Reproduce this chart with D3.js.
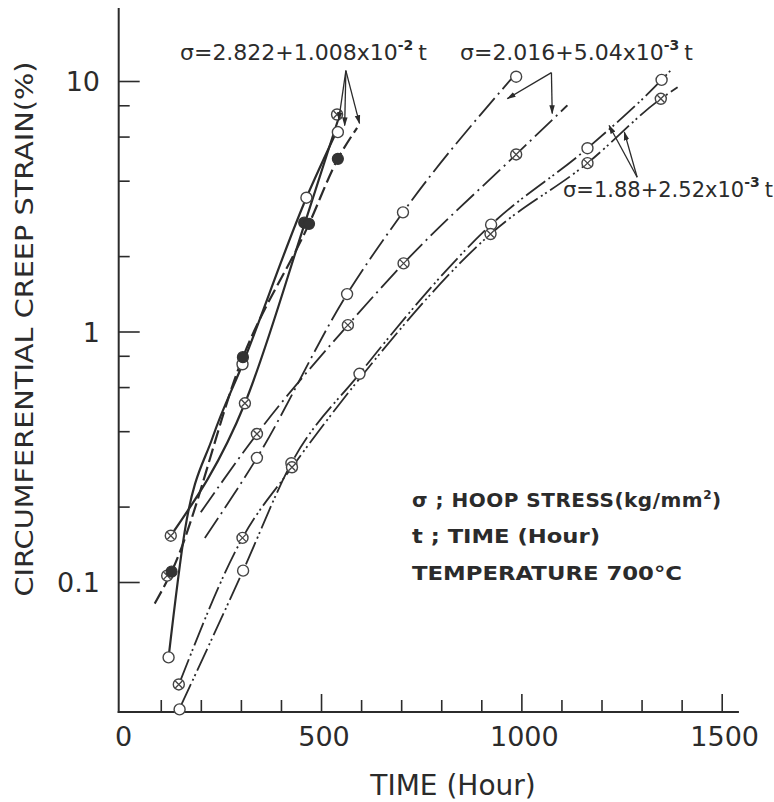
<!DOCTYPE html>
<html>
<head>
<meta charset="utf-8">
<script src="https://cdn.jsdelivr.net/npm/d3@7"></script>
<style>
body { margin: 0; background: #fff; }
svg { display: block; }
text { font-family: "DejaVu Sans", sans-serif; fill: #2b2b2b; }
</style>
</head>
<body>
<script>
var w = 774;
var h = 802;

// tick values
var xMajor = [0, 500, 1000, 1500];
var xMinor = [100, 200, 300, 400, 600, 700, 800, 900, 1100, 1200, 1300, 1400];
var yMajor = [0.1, 1, 10];
var yMinor = [0.2, 0.4, 0.6, 0.8, 2, 4, 6, 8];
var yLabels = ["0.1", "1", "10"];

// measured points [time (h), strain (%)]
// sigma = 2.822 + 1.008e-2 t
var g1Open = [[119.5, 0.050], [304, 0.74], [463.5, 3.42], [542, 6.25]];
var g1Filled = [[127, 0.110], [305, 0.79], [458, 2.72], [470, 2.69], [542, 4.89]];
var g1Cross = [[116, 0.106], [310, 0.517], [540, 7.35]];
// sigma = 2.016 + 5.04e-3 t
var g2Open = [[340, 0.313], [565, 1.41], [704.5, 2.99], [987, 10.4]];
var g2Cross = [[125, 0.153], [340, 0.39], [567, 1.06], [706, 1.87], [987, 5.09]];
// sigma = 1.88 + 2.52e-3 t
var g3Open = [[147, 0.031], [305.5, 0.111], [426, 0.298], [596, 0.678], [924.5, 2.67], [1165, 5.39], [1350, 10.1]];
var g3Cross = [[145, 0.039], [304, 0.150], [427.5, 0.287], [923, 2.45], [1165, 4.70], [1348, 8.49]];

// fitted curves (drawn through the points, with their visible run-out)
var g1OpenLine = [[119.5, 0.050], [160, 0.16], [230, 0.38], [304, 0.74], [463.5, 3.42], [545, 6.6]];
var g1FilledLine = [[85, 0.082], [127, 0.110], [305, 0.79], [470, 2.69], [542, 4.89], [590, 6.5]];
var g1CrossLine = [[125, 0.153], [310, 0.517], [460, 2.72], [545, 7.2]];
var g2OpenLine = [[210, 0.15], [340, 0.313], [565, 1.41], [704.5, 2.99], [975, 10.2]];
var g2CrossLine = [[200, 0.19], [340, 0.39], [567, 1.06], [706, 1.87], [987, 5.09], [1115, 8.0]];
var g3OpenLine = [[150, 0.032], [305.5, 0.111], [426, 0.298], [596, 0.678], [924.5, 2.67], [1165, 5.39], [1350, 10.1], [1372, 11.0]];
var g3CrossLine = [[148, 0.040], [304, 0.150], [427.5, 0.287], [600, 0.66], [923, 2.45], [1165, 4.70], [1348, 8.49], [1390, 9.45]];

// annotation arrows: apex then tips
var arrow1 = [[562, 11.0], [544, 6.96], [559, 6.64], [596, 6.77]];
var arrow2 = [[1075, 10.8], [965, 8.5], [1077, 7.42]];
var arrow3 = [[1289, 4.13], [1219, 6.64], [1257, 6.25]];

var x = d3.scaleLinear().domain([0, 1500]).range([120.7, 721.7]);
var y = d3.scaleLog().domain([0.1, 10]).range([582, 81]);

var svg = d3.select("body").append("svg").attr("width", w).attr("height", h);

var ink = "#2b2b2b";

// axes lines
svg.append("line").attr("x1", x(0) - 2).attr("y1", y(0.03)).attr("x2", x(0) - 2).attr("y2", 8)
	.attr("stroke", ink).attr("stroke-width", 2);
svg.append("line").attr("x1", x(0) - 3).attr("y1", y(0.03) - 1).attr("x2", x(1543)).attr("y2", y(0.03) - 1)
	.attr("stroke", ink).attr("stroke-width", 2);

var x0 = y(0.03) - 1;
var gx = svg.append("g").attr("transform", "translate(0," + x0 + ")");
gx.call(d3.axisBottom(x).tickValues(xMajor.slice(1)).tickSize(-18).tickFormat(""));
gx.append("g").call(d3.axisBottom(x).tickValues(xMinor).tickSize(-12).tickFormat(""));
gx.selectAll(".domain").remove();
gx.selectAll("line").attr("stroke", ink).attr("stroke-width", 1.6);

svg.selectAll(".xlab")
	.data(xMajor)
	.enter().append("text")
	.attr("class", "xlab")
	.attr("x", function(d) { return x(d) + 3; })
	.attr("y", 746)
	.attr("text-anchor", "middle")
	.style("font-size", "27px")
	.text(function(d) { return d; });

var gy = svg.append("g").attr("transform", "translate(" + (x(0) - 2) + ",0)");
gy.call(d3.axisLeft(y).tickValues(yMajor).tickSize(-21).tickFormat(""));
gy.append("g").call(d3.axisLeft(y).tickValues(yMinor).tickSize(-11).tickFormat(""));
gy.selectAll(".domain").remove();
gy.selectAll("line").attr("stroke", ink).attr("stroke-width", 1.6);

svg.selectAll(".ylab")
	.data(yMajor)
	.enter().append("text")
	.attr("class", "ylab")
	.attr("x", 100)
	.attr("y", function(d) { return y(d) + 10; })
	.attr("text-anchor", "end")
	.style("font-size", "27px")
	.text(function(d, i) { return yLabels[i]; });

svg.append("text")
	.attr("transform", "translate(33,329) rotate(-90)")
	.attr("text-anchor", "middle")
	.attr("textLength", 535)
	.attr("lengthAdjust", "spacingAndGlyphs")
	.style("font-size", "25px")
	.text("CIRCUMFERENTIAL CREEP STRAIN(%)");

svg.append("text")
	.attr("x", 453).attr("y", 795)
	.attr("text-anchor", "middle")
	.style("font-size", "28px")
	.text("TIME (Hour)");

// curves
var line = d3.line()
	.x(function(d) { return x(d[0]); })
	.y(function(d) { return y(d[1]); })
	.curve(d3.curveMonotoneX);

var curves = [
	{ d: g1OpenLine, dash: null, sw: 2.2 },
	{ d: g1FilledLine, dash: "14,5", sw: 2.2 },
	{ d: g1CrossLine, dash: null, sw: 2.2 },
	{ d: g2OpenLine, dash: "24,5,2,5", sw: 1.8 },
	{ d: g2CrossLine, dash: "24,5,2,5", sw: 1.8 },
	{ d: g3OpenLine, dash: "24,4,2,3,2,4", sw: 1.8 },
	{ d: g3CrossLine, dash: "24,4,2,3,2,4", sw: 1.8 }
];

svg.append("g").selectAll("path")
	.data(curves)
	.enter().append("path")
	.attr("d", function(c) { return line(c.d); })
	.attr("fill", "none")
	.attr("stroke", ink)
	.attr("stroke-width", function(c) { return c.sw; })
	.attr("stroke-dasharray", function(c) { return c.dash; });

// markers
var r = 5.5;
var openAll = g1Open.concat(g2Open, g3Open);
var crossAll = g1Cross.concat(g2Cross, g3Cross);

svg.append("g").selectAll("circle")
	.data(openAll)
	.enter().append("circle")
	.attr("cx", function(d) { return x(d[0]); })
	.attr("cy", function(d) { return y(d[1]); })
	.attr("r", r)
	.attr("fill", "#fff")
	.attr("stroke", "#444")
	.attr("stroke-width", 1.4);

var cross = svg.append("g").selectAll("g")
	.data(crossAll)
	.enter().append("g")
	.attr("transform", function(d) { return "translate(" + x(d[0]) + "," + y(d[1]) + ")"; });
cross.append("circle").attr("r", r).attr("fill", "#fff").attr("stroke", "#444").attr("stroke-width", 1.4);
cross.append("path").attr("d", "M-3.5,-3.5L3.5,3.5M-3.5,3.5L3.5,-3.5").attr("stroke", "#444").attr("stroke-width", 1.3);

svg.append("g").selectAll("circle")
	.data(g1Filled)
	.enter().append("circle")
	.attr("cx", function(d) { return x(d[0]); })
	.attr("cy", function(d) { return y(d[1]); })
	.attr("r", r)
	.attr("fill", "#333")
	.attr("stroke", "#333")
	.attr("stroke-width", 1.2);

// arrows
svg.append("defs").append("marker")
	.attr("id", "head")
	.attr("viewBox", "0 0 10 10")
	.attr("refX", 9).attr("refY", 5)
	.attr("markerWidth", 7).attr("markerHeight", 7)
	.attr("orient", "auto")
	.append("path").attr("d", "M0,2L10,5L0,8Z").attr("fill", ink);

[arrow1, arrow2, arrow3].forEach(function(a) {
	var apex = a[0];
	svg.append("g").selectAll("line")
		.data(a.slice(1))
		.enter().append("line")
		.attr("x1", x(apex[0])).attr("y1", y(apex[1]))
		.attr("x2", function(d) { return x(d[0]); })
		.attr("y2", function(d) { return y(d[1]); })
		.attr("stroke", ink)
		.attr("stroke-width", 1.3)
		.attr("marker-end", "url(#head)");
});

// equation labels, one text each with a raised exponent
function eq(xp, yb, size, main, ex) {
	var t = svg.append("text").attr("x", xp).attr("y", yb).style("font-size", size + "px");
	t.append("tspan").text(main);
	t.append("tspan").attr("dy", -10).style("font-size", "14px").style("font-weight", "bold").text(ex);
	t.append("tspan").attr("dy", 10).attr("dx", 5).text("t");
}
eq(180, 60, 22, "σ=2.822+1.008x10", "-2");
eq(460, 60, 22, "σ=2.016+5.04x10", "-3");
eq(563, 197, 21, "σ=1.88+2.52x10", "-3");

// legend notes
var notes = svg.append("g").style("font-size", "20px").style("font-weight", "bold");
var hoop = notes.append("text").attr("x", 412).attr("y", 507).style("letter-spacing", "0.5px");
hoop.append("tspan").text("σ ; HOOP STRESS(kg/mm");
hoop.append("tspan").attr("dy", -8).style("font-size", "12px").text("2");
hoop.append("tspan").attr("dy", 8).text(")");
notes.append("text").attr("x", 412).attr("y", 543)
	.attr("textLength", 188).attr("lengthAdjust", "spacingAndGlyphs")
	.text("t ; TIME (Hour)");
notes.append("text").attr("x", 412).attr("y", 580)
	.attr("textLength", 270).attr("lengthAdjust", "spacingAndGlyphs")
	.text("TEMPERATURE 700°C");
</script>
</body>
</html>
